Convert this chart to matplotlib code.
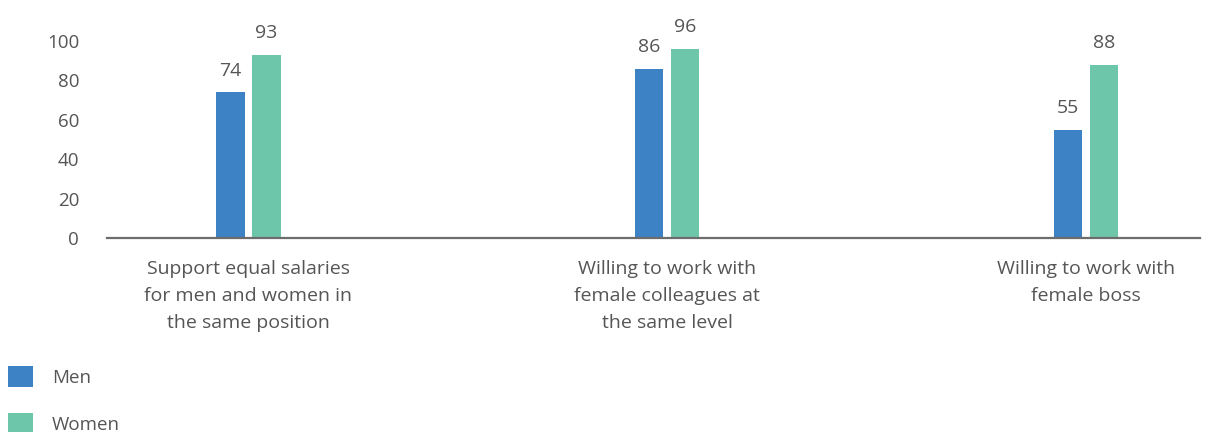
import matplotlib.pyplot as plt
import numpy as np

plt.rcParams['font.family'] = ['Open Sans', 'DejaVu Sans']

# Data
categories = ['Support equal salaries\nfor men and women in\nthe same position',
              'Willing to work with\nfemale colleagues at\nthe same level',
              'Willing to work with\nfemale boss']
men = [74, 86, 55]
women = [93, 96, 88]
y_ticks = [0, 20, 40, 60, 80, 100]

text_color = '#555555'
men_color = '#3d82c4'
women_color = '#6dc6a9'

fig = plt.figure(figsize=(12.06, 4.32), dpi=100)
ax = fig.add_axes([107 / 1206, 1 - 238 / 432, (1200 - 107) / 1206, (238 - 41) / 432])

x = np.arange(len(categories))
w = 0.067
off = 0.043
b1 = ax.bar(x - off, men, width=w, color=men_color, label='Men')
b2 = ax.bar(x + off, women, width=w, color=women_color, label='Women')

for bars in (b1, b2):
    for b in bars:
        ax.annotate(f'{b.get_height():.0f}', (b.get_x() + b.get_width() / 2, b.get_height()),
                    xytext=(0, 9), textcoords='offset points', ha='center', va='bottom',
                    fontsize=14, color=text_color, annotation_clip=False)

ax.set_xlim(-0.338, 2.273)
ax.set_ylim(0, 100)
ax.set_yticks(y_ticks)
ax.set_xticks(x)
ax.set_xticklabels(categories, fontsize=14, color=text_color, linespacing=1.62)
ax.tick_params(axis='y', length=0, pad=20, labelsize=13.5, labelcolor=text_color)
ax.tick_params(axis='x', length=0, pad=16)

for s in ['top', 'right', 'left']:
    ax.spines[s].set_visible(False)
ax.spines['bottom'].set_color('#6d6d6d')
ax.spines['bottom'].set_linewidth(1.6)

fig.legend(loc='upper left', bbox_to_anchor=(8 / 1206, 1 - 366 / 432), frameon=False,
           fontsize=13.5, handlelength=1.35, handleheight=1.35, labelspacing=1.4,
           handletextpad=1.0, labelcolor=text_color, borderaxespad=0, borderpad=0)

fig.savefig('out.png', dpi=100)
